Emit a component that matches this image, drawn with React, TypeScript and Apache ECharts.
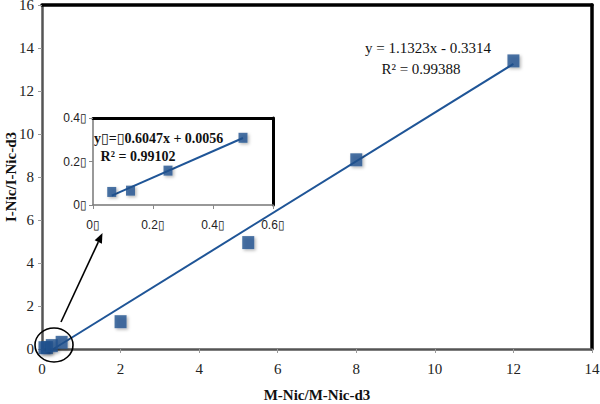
import React, { useEffect, useRef } from "react";
import * as echarts from "echarts";

// Main calibration data
const mainX = [0.0625, 0.125, 0.25, 0.5, 2, 5.25, 8, 12];
const mainY = [0.06, 0.066, 0.158, 0.309, 1.27, 4.95, 8.8, 13.4];
// Main trend line endpoints (y = 1.1323x - 0.3314)
const trendX = [0.29, 12];
const trendY = [0.0, 13.26];

// Inset (low range) data
const insetX = [0.0625, 0.125, 0.25, 0.5];
const insetY = [0.06, 0.066, 0.158, 0.309];
// Inset trend line endpoints (y = 0.6047x + 0.0056)
const insetTrendX = [0.0625, 0.5];
const insetTrendY = [0.043, 0.308];

const mainXTicks = ["0", "2", "4", "6", "8", "10", "12", "14"];
const mainYTicks = ["0", "2", "4", "6", "8", "10", "12", "14", "16"];
const insetXTicks = ["0\u25AF", "0.2\u25AF", "0.4\u25AF", "0.6\u25AF"];
const insetYTicks = ["0\u25AF", "0.2\u25AF", "0.4\u25AF"];

const mainEq = "y = 1.1323x - 0.3314";
const mainR2 = "R\u00B2 = 0.99388";
const insetEq = "y\u25AF=\u25AF0.6047x + 0.0056";
const insetR2 = "R\u00B2 = 0.99102";

const xTitle = "M-Nic/M-Nic-d3";
const yTitle = "I-Nic/I-Nic-d3";

const MARKER = "#22528F";
const LINE = "#1F5597";
const SERIF = "'Liberation Serif', 'DejaVu Serif', serif";
const SANS = "'Liberation Sans', Arial, sans-serif";

export default function App() {
  const ref = useRef<HTMLDivElement>(null);
  useEffect(() => {
    if (!ref.current) return;
    document.body.style.margin = "0";
    const chart = echarts.init(ref.current, undefined, { renderer: "svg" });
    const pair = (xs: number[], ys: number[]) => xs.map((x, i) => [x, ys[i]]);
    const markerStyle = {
      color: MARKER,
      shadowBlur: 3,
      shadowColor: "rgba(0,0,0,0.35)",
      shadowOffsetX: 1.5,
      shadowOffsetY: 1.5,
    };
    const mainAxisLabel = { fontFamily: SERIF, fontSize: 15, color: "#222" };

    const ax = 54, ay = 345;
    const tip = [102.5, 233];
    const start = [61, 322];
    const dx = tip[0] - start[0], dy = tip[1] - start[1];
    const len = Math.hypot(dx, dy);
    const ux = dx / len, uy = dy / len;
    const bx = tip[0] - ux * 10, by = tip[1] - uy * 10;
    const px = -uy * 4, py = ux * 4;

    chart.setOption({
      animation: false,
      backgroundColor: "#fff",
      grid: [
        { left: 42, top: 5, width: 550, height: 344, containLabel: false, outerBoundsMode: "none" },
        {
          left: 93,
          top: 118,
          width: 180,
          height: 87,
          show: true,
          backgroundColor: "#fff",
          borderWidth: 0,
          containLabel: false,
          outerBoundsMode: "none",
          z: 5,
        },
      ],
      xAxis: [
        {
          gridIndex: 0,
          type: "value",
          min: 0,
          max: 14,
          interval: 2,
          splitLine: { show: false },
          axisLine: { lineStyle: { color: "#555", width: 2.5 } },
          axisTick: { show: true, length: 4, lineStyle: { color: "#999" } },
          axisLabel: {
            ...mainAxisLabel,
            margin: 12,
            formatter: (v: number) => mainXTicks[Math.round(v / 2)] ?? "",
          },
          name: xTitle,
          nameLocation: "middle",
          nameGap: 38,
          nameMoveOverlap: false,
          nameTextStyle: { fontFamily: SERIF, fontSize: 15, fontWeight: "bold", color: "#111" },
        },
        {
          gridIndex: 0,
          type: "value",
          position: "top",
          min: 0,
          max: 14,
          axisLine: { show: true, onZero: false, lineStyle: { color: "#000", width: 3.5 } },
          axisTick: { show: false },
          axisLabel: { show: false },
          splitLine: { show: false },
        },
        {
          gridIndex: 1,
          type: "value",
          min: 0,
          max: 0.6,
          interval: 0.2,
          splitLine: { show: false },
          axisLine: { lineStyle: { color: "#777", width: 1.5 } },
          axisTick: { show: true, length: 4, lineStyle: { color: "#888" } },
          axisLabel: {
            fontFamily: SANS,
            fontSize: 12,
            color: "#222",
            margin: 14,
            formatter: (v: number) => insetXTicks[Math.round(v / 0.2)] ?? "",
          },
          z: 6,
        },
        {
          gridIndex: 1,
          type: "value",
          position: "top",
          min: 0,
          max: 0.6,
          axisLine: { show: true, onZero: false, lineStyle: { color: "#000", width: 3 } },
          axisTick: { show: false },
          axisLabel: { show: false },
          splitLine: { show: false },
          z: 6,
        },
      ],
      yAxis: [
        {
          gridIndex: 0,
          type: "value",
          min: 0,
          max: 16,
          interval: 2,
          splitLine: { show: false },
          axisLine: { show: true, lineStyle: { color: "#555", width: 2.5 } },
          axisTick: { show: true, length: 4, lineStyle: { color: "#999" } },
          axisLabel: {
            ...mainAxisLabel,
            margin: 8,
            lineHeight: 13,
            formatter: (v: number) => mainYTicks[Math.round(v / 2)] ?? "",
          },
          name: yTitle,
          nameLocation: "middle",
          nameGap: 24,
          nameMoveOverlap: false,
          nameTextStyle: { fontFamily: SERIF, fontSize: 15, fontWeight: "bold", color: "#111", lineHeight: 14 },
        },
        {
          gridIndex: 0,
          type: "value",
          position: "right",
          min: 0,
          max: 16,
          axisLine: { show: true, onZero: false, lineStyle: { color: "#000", width: 3.5 } },
          axisTick: { show: false },
          axisLabel: { show: false },
          splitLine: { show: false },
        },
        {
          gridIndex: 1,
          type: "value",
          min: 0,
          max: 0.4,
          interval: 0.2,
          splitLine: { show: false },
          axisLine: { show: true, lineStyle: { color: "#777", width: 1.5 } },
          axisTick: { show: true, length: 4, lineStyle: { color: "#888" } },
          axisLabel: {
            fontFamily: SANS,
            fontSize: 12,
            color: "#222",
            margin: 6,
            formatter: (v: number) => insetYTicks[Math.round(v / 0.2)] ?? "",
          },
          z: 6,
        },
        {
          gridIndex: 1,
          type: "value",
          position: "right",
          min: 0,
          max: 0.4,
          axisLine: { show: true, onZero: false, lineStyle: { color: "#000", width: 3 } },
          axisTick: { show: false },
          axisLabel: { show: false },
          splitLine: { show: false },
          z: 6,
        },
      ],
      series: [
        {
          type: "line",
          xAxisIndex: 0,
          yAxisIndex: 0,
          data: pair(trendX, trendY),
          showSymbol: false,
          lineStyle: { color: LINE, width: 2 },
          z: 2,
        },
        {
          type: "scatter",
          xAxisIndex: 0,
          yAxisIndex: 0,
          data: pair(mainX, mainY),
          symbol: "rect",
          symbolSize: [12, 13],
          itemStyle: markerStyle,
          z: 3,
        },
        {
          type: "line",
          xAxisIndex: 2,
          yAxisIndex: 2,
          data: pair(insetTrendX, insetTrendY),
          showSymbol: false,
          lineStyle: { color: LINE, width: 2 },
          z: 7,
        },
        {
          type: "scatter",
          xAxisIndex: 2,
          yAxisIndex: 2,
          data: pair(insetX, insetY),
          symbol: "rect",
          symbolSize: [9, 10],
          itemStyle: markerStyle,
          z: 8,
        },
      ],
      graphic: [
        {
          type: "text",
          x: 365,
          y: 48,
          z: 20,
          style: { text: mainEq, fontFamily: SERIF, fontSize: 15, fill: "#111", verticalAlign: "middle" },
        },
        {
          type: "text",
          x: 421,
          y: 69,
          z: 20,
          style: {
            text: mainR2,
            fontFamily: SERIF,
            fontSize: 15,
            fill: "#111",
            align: "center",
            verticalAlign: "middle",
          },
        },
        {
          type: "text",
          x: 94,
          y: 138,
          z: 20,
          style: {
            text: insetEq,
            fontFamily: SERIF,
            fontSize: 14,
            fontWeight: "bold",
            fill: "#111",
            verticalAlign: "middle",
          },
        },
        {
          type: "text",
          x: 138,
          y: 156,
          z: 20,
          style: {
            text: insetR2,
            fontFamily: SERIF,
            fontSize: 14,
            fontWeight: "bold",
            fill: "#111",
            align: "center",
            verticalAlign: "middle",
          },
        },
        {
          type: "ellipse",
          z: 20,
          shape: { cx: ax, cy: ay, rx: 19, ry: 17 },
          style: { fill: "none", stroke: "#000", lineWidth: 1.6 },
        },
        {
          type: "line",
          z: 20,
          shape: { x1: start[0], y1: start[1], x2: bx, y2: by },
          style: { stroke: "#000", lineWidth: 1.6 },
        },
        {
          type: "polygon",
          z: 20,
          shape: {
            points: [
              [tip[0], tip[1]],
              [bx + px, by + py],
              [bx - px, by - py],
            ],
          },
          style: { fill: "#000" },
        },
      ],
    });
    return () => chart.dispose();
  }, []);
  return <div ref={ref} style={{ width: 600, height: 404 }} />;
}
